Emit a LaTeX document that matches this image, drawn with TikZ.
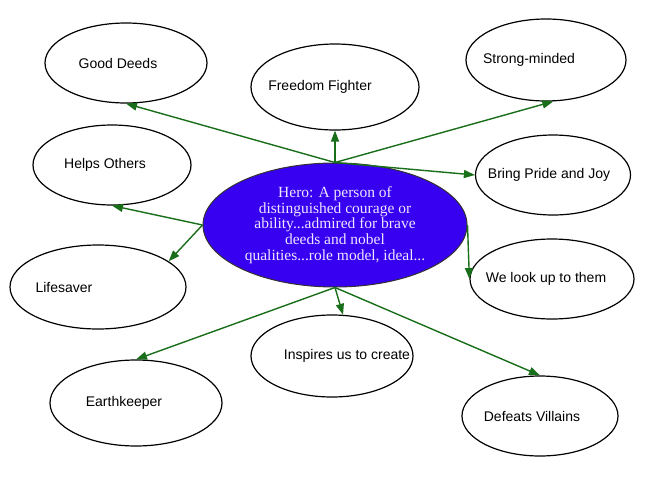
\documentclass[tikz,border=0pt]{standalone}
\usepackage{fontspec}
\setmainfont{Liberation Sans}
\newfontfamily\herofont{Liberation Serif}
\usetikzlibrary{shapes.geometric, arrows.meta}
\definecolor{herofill}{RGB}{55,0,240}
\definecolor{herotext}{RGB}{236,230,255}
\definecolor{linkgreen}{RGB}{25,110,25}

\begin{document}
\begin{tikzpicture}[x=1pt,y=-1pt, every node/.style={font=\fontsize{14}{16}\selectfont},
    bubble/.style={draw, ellipse, line width=1.2pt, inner sep=0pt},
    nudge/.style 2 args={execute at begin node={\hspace*{#1}}, execute at end node={\hspace*{#2}}},
    link/.style={-{Triangle[length=11pt,width=8pt]}, linkgreen, line width=1.4pt}]
    \useasboundingbox (0,0) rectangle (665,477);
    \node[draw=black!80, ellipse, line width=1pt, fill=herofill, text=herotext, align=center, inner sep=0pt,
          minimum width=264, minimum height=124, font=\herofont\fontsize{15.5}{15.8}\selectfont] (hero) at (335,225)
          {Hero: A person of\\distinguished courage or\\ability...admired for brave\\deeds and nobel\\qualities...role model, ideal...};
    \node[bubble, minimum width=162, minimum height=80, nudge={-16pt}{0pt}] (gd) at (126,63) {Good Deeds};
    \node[bubble, minimum width=168, minimum height=86, nudge={-30pt}{0pt}] (ff) at (335,87) {Freedom Fighter};
    \node[bubble, minimum width=160, minimum height=82, nudge={-34pt}{0pt}] (sm) at (546,60) {Strong-minded};
    \node[bubble, minimum width=158, minimum height=80, nudge={-14pt}{0pt}] (ho) at (112,165) {Helps Others};
    \node[bubble, minimum width=155, minimum height=80, nudge={-12pt}{-4pt}] (bp) at (553,175) {Bring Pride and Joy};
    \node[bubble, minimum width=176, minimum height=84, nudge={-68pt}{0pt}] (lf) at (98,287) {Lifesaver};
    \node[bubble, minimum width=164, minimum height=80, nudge={-12pt}{0pt}] (wl) at (552,279) {We look up to them};
    \node[bubble, minimum width=162, minimum height=82, nudge={0pt}{-30pt}] (ins) at (332,356) {Inspires us to create};
    \node[bubble, minimum width=172, minimum height=86, nudge={-24pt}{0pt}] (ek) at (136,403) {Earthkeeper};
    \node[bubble, minimum width=156, minimum height=80, nudge={-16pt}{0pt}] (dv) at (540,416) {Defeats Villains};
    \draw[link] (hero.north) -- (gd.south);
    \draw[link] (hero.north) -- (ff.south);
    \draw[link] (hero.north) -- (sm.-80);
    \draw[link] (hero.north) -- (bp.west);
    \draw[link] (hero.west) -- (ho.south);
    \draw[link] (hero.west) -- (lf.20);
    \draw[link] (hero.east) -- (wl.west);
    \draw[link] (hero.south) -- (ins.75);
    \draw[link] (hero.south) -- (ek.north);
    \draw[link] (hero.south) -- (dv.north);
\end{tikzpicture}
\end{document}
